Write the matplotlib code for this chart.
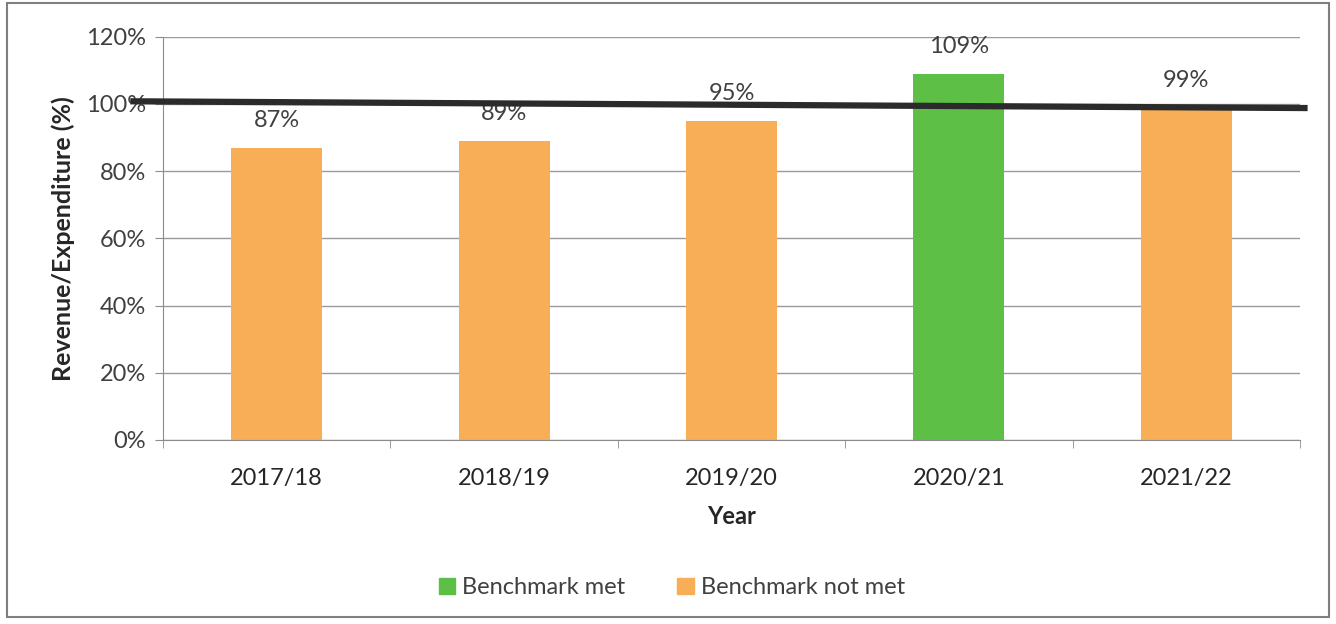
import matplotlib.pyplot as plt
from matplotlib.patches import Patch, Rectangle

plt.rcParams['font.family'] = ['Lato', 'DejaVu Sans']

years = ["2017/18", "2018/19", "2019/20", "2020/21", "2021/22"]
ratio = [87, 89, 95, 109, 99]
benchmark = 100
met_color = "#5dbf46"
not_met_color = "#f8ad57"

colors = [met_color if r >= benchmark else not_met_color for r in ratio]

fig = plt.figure(figsize=(13.36, 6.24), dpi=100)
ax = fig.add_axes([0.122, 0.295, 0.851, 0.646])

x = list(range(len(years)))
ax.bar(x, ratio, width=0.4, color=colors, zorder=2)
for xi, r in zip(x, ratio):
    ax.text(xi, r + 5, f"{r}%", ha="center", va="bottom", fontsize=17, color="#404040")

# benchmark line, runs a little past the left edge
ax.plot([-0.63, 4.52], [benchmark + 0.8, benchmark - 1.2], color="#2b2b2b", lw=4.5,
        clip_on=False, zorder=3)

ax.set_xlim(-0.5, 4.5)
ax.set_ylim(0, 120)
ax.set_yticks(range(0, 121, 20))
ax.set_yticklabels([f"{v}%" for v in range(0, 121, 20)])
ax.grid(axis="y", color="#9a9a9a", lw=1, zorder=0)
ax.set_xticks(x)
ax.set_xticklabels(years)
ax.set_xticks([i - 0.5 for i in range(len(years) + 1)], minor=True)
ax.tick_params(axis="x", which="major", length=0, pad=20, labelsize=17, labelcolor="#262626")
ax.tick_params(axis="x", which="minor", length=6, color="#8c8c8c")
ax.tick_params(axis="y", length=6, color="#8c8c8c", labelsize=17, labelcolor="#404040", pad=6)
for s in ["top", "right"]:
    ax.spines[s].set_visible(False)
for s in ["left", "bottom"]:
    ax.spines[s].set_color("#8c8c8c")

ax.set_xlabel("Year", fontsize=17, fontweight="bold", color="#262626", labelpad=12)
ax.set_ylabel("Revenue/Expenditure (%)", fontsize=18, fontweight="bold", color="#262626", labelpad=8)

handles = [Patch(color=met_color, label="Benchmark met"),
           Patch(color=not_met_color, label="Benchmark not met")]
fig.legend(handles=handles, loc="center", bbox_to_anchor=(0.503, 0.058), ncol=2,
           frameon=False, fontsize=17, handlelength=0.7, handleheight=0.7,
           handletextpad=0.3, columnspacing=2.2, labelcolor="#404040")

fig.add_artist(Rectangle((0.005, 0.012), 0.99, 0.983, transform=fig.transFigure,
                         fill=False, edgecolor="#7f7f7f", lw=1.5))

fig.savefig("out.png", dpi=100)
